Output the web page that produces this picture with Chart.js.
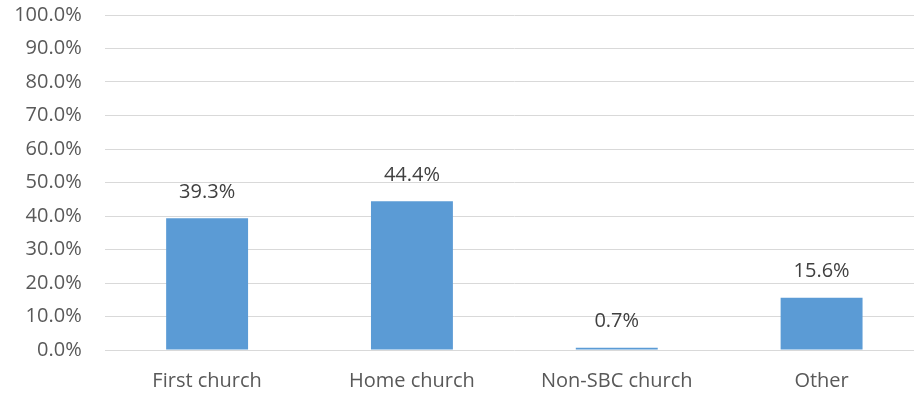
<!DOCTYPE html>
<html>
<head>
<meta charset="utf-8">
<script src="https://cdn.jsdelivr.net/npm/chart.js@4/dist/chart.umd.min.js"></script>
<style>
  html, body { margin: 0; padding: 0; background: #fff; overflow: hidden; }
  #wrap { position: relative; width: 924px; height: 395px; }
</style>
</head>
<body>
<div id="wrap"><canvas id="c"></canvas></div>
<script>
const categories = ['First church', 'Home church', 'Non-SBC church', 'Other'];
const shares = [39.3, 44.4, 0.7, 15.6];

const FONT = '"Open Sans", sans-serif';
const SIZE = 20;

// Draws the value above each bar
const valueLabels = {
  id: 'valueLabels',
  afterDatasetsDraw(chart) {
    const ctx = chart.ctx;
    const meta = chart.getDatasetMeta(0);
    ctx.save();
    ctx.font = SIZE + 'px ' + FONT;
    ctx.fillStyle = '#404040';
    ctx.textAlign = 'center';
    ctx.textBaseline = 'middle';
    meta.data.forEach((bar, i) => {
      ctx.fillText(shares[i].toFixed(1) + '%', bar.x, bar.y - 26);
    });
    ctx.restore();
  }
};

new Chart(document.getElementById('c'), {
  type: 'bar',
  data: {
    labels: categories,
    datasets: [{
      data: shares,
      backgroundColor: '#5B9BD5',
      categoryPercentage: 1,
      barPercentage: 0.4
    }]
  },
  options: {
    responsive: true,
    maintainAspectRatio: false,
    animation: false,
    layout: { padding: { top: 15, right: 0, left: 0, bottom: 0 } },
    plugins: { legend: { display: false }, tooltip: { enabled: false } },
    scales: {
      x: {
        grid: { display: false, drawTicks: false },
        border: { display: false },
        ticks: { color: '#595959', font: { family: FONT, size: SIZE }, padding: 19 },
        afterFit(scale) { scale.height = 45; }
      },
      y: {
        min: 0,
        max: 100,
        grid: { color: '#D9D9D9', lineWidth: 1, drawTicks: false },
        border: { display: false },
        ticks: {
          stepSize: 10,
          color: '#595959',
          font: { family: FONT, size: SIZE },
          padding: 23,
          callback: v => v.toFixed(1) + '%'
        },
        afterFit(scale) {
          scale.width = 104.7;
          scale.paddingTop = 0;
          scale.paddingBottom = 0;
        }
      }
    }
  },
  plugins: [valueLabels]
});
</script>
</body>
</html>
